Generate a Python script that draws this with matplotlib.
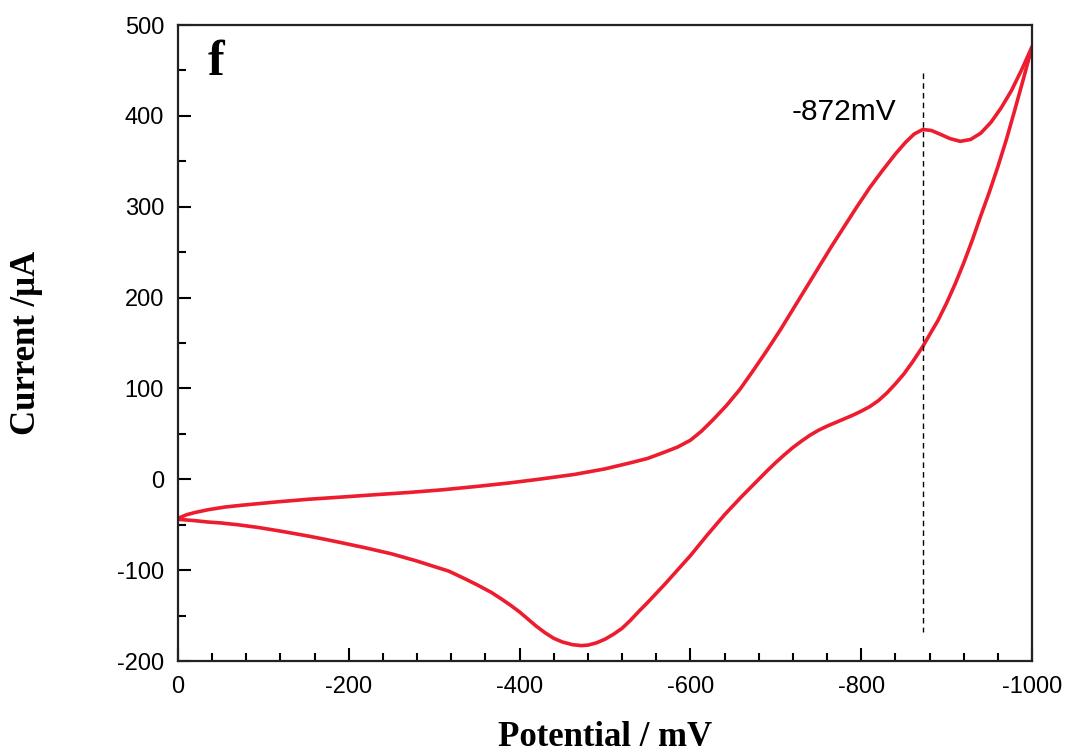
import matplotlib
matplotlib.use("Agg")
import matplotlib.pyplot as plt
from matplotlib.ticker import MultipleLocator

plt.rcParams['axes.unicode_minus'] = False
plt.rcParams['font.family'] = ['Liberation Sans', 'DejaVu Sans']

# forward scan (upper branch), potential in mV, current in uA
fwd_potential = [0, -10, -20, -35, -55, -75, -114, -152, -192, -230, -270, -310, -348, -388,
                 -426, -465, -500, -529, -550, -570, -585, -600, -613, -627, -642, -658, -673,
                 -689, -705, -720, -735, -750, -765, -780, -795, -810, -825, -840, -852, -862,
                 -872, -882, -892, -904, -916, -928, -940, -952, -964, -976, -988, -1000]
fwd_current = [-43, -39, -36.5, -33.5, -30.5, -28.5, -25, -22, -19.5, -17, -14.5, -11.5, -8, -4,
               0.5, 5.5, 11.5, 18, 23, 30, 35.5, 43, 53, 66, 81, 99, 119,
               141, 164, 187, 210, 233, 256, 278, 300, 321, 340, 358, 371, 380,
               385, 384, 380, 375, 372, 374, 381, 393, 409, 428, 451, 476]

# reverse scan (lower branch)
rev_potential = [-1000, -990, -980, -970, -960, -950, -940, -930, -920, -910, -900, -890, -880,
                 -872, -860, -850, -840, -830, -820, -810, -800, -790, -780, -770, -760, -750,
                 -740, -730, -720, -710, -700, -690, -680, -670, -660, -650, -640, -630, -620,
                 -610, -600, -590, -580, -570, -560, -550, -540, -530, -520, -510, -500, -490,
                 -480, -472, -462, -450, -440, -430, -420, -410, -400, -390, -380, -367, -350,
                 -335, -317, -300, -280, -250, -220, -190, -172, -150, -120, -94, -70, -50,
                 -35, -20, 0]
rev_current = [476, 441, 407, 374, 344, 316, 290, 263, 238, 215, 194, 175, 159,
               146, 129, 116, 105, 95, 86.5, 80, 75, 70.5, 66.5, 62.5, 58.5, 54,
               48.5, 42, 35, 27, 18.5, 9.5, 0, -9.5, -19, -29, -39, -50, -61,
               -72.5, -84, -94.5, -105, -115.5, -125.5, -135.5, -145, -155, -164, -170.5, -176, -180,
               -182.5, -183, -182, -179, -175, -169, -162, -154, -146, -139, -132.5, -124.5, -116,
               -109, -101, -96, -90, -82, -75.5, -69.5, -66, -62, -57, -53, -50, -48,
               -47, -45.5, -44]

peak_potential = -872
peak_label = "-872mV"
panel_label = "f"
x_ticks = [0, -200, -400, -600, -800, -1000]
y_ticks = [-200, -100, 0, 100, 200, 300, 400, 500]

fig = plt.figure(figsize=(10.67, 7.54), dpi=100)
ax = fig.add_axes([0.1668, 0.1233, 0.8004, 0.8435])

red = '#ED1C2E'
ax.plot(fwd_potential, fwd_current, color=red, lw=2.6, solid_capstyle='round', solid_joinstyle='round')
ax.plot(rev_potential, rev_current, color=red, lw=2.6, solid_capstyle='round', solid_joinstyle='round')

ax.plot([peak_potential, peak_potential], [447, -168], color='black', lw=1.0, ls=(0, (4, 3)))
ax.text(peak_potential + 31, 404, peak_label, ha='right', va='center', fontsize=21.5)
ax.text(0.035, 0.94, panel_label, transform=ax.transAxes, ha='left', va='center',
        fontsize=36, fontweight='bold', family='Liberation Serif')

ax.set_xlim(0, -1000)
ax.set_ylim(-200, 500)
ax.set_xticks(x_ticks)
ax.set_yticks(y_ticks)
ax.xaxis.set_minor_locator(MultipleLocator(40))
ax.yaxis.set_minor_locator(MultipleLocator(50))

ax.tick_params(which='both', direction='in', top=False, right=False, width=1.5)
ax.tick_params(which='major', length=9.5, pad=11, labelsize=17)
ax.tick_params(which='minor', length=5.5)
ax.tick_params(axis='y', which='major', pad=10)

for s in ax.spines.values():
    s.set_linewidth(1.6)
    s.set_color('#222222')

ax.set_xlabel('Potential / mV', fontsize=25, fontweight='bold', family='Liberation Serif', va='center')
ax.set_ylabel('Current /μA', fontsize=25, fontweight='bold', family='Liberation Serif', va='center')
ax.xaxis.set_label_coords(0.5, -0.121)
ax.yaxis.set_label_coords(-0.177, 0.5)

fig.savefig('out.png', dpi=100)
